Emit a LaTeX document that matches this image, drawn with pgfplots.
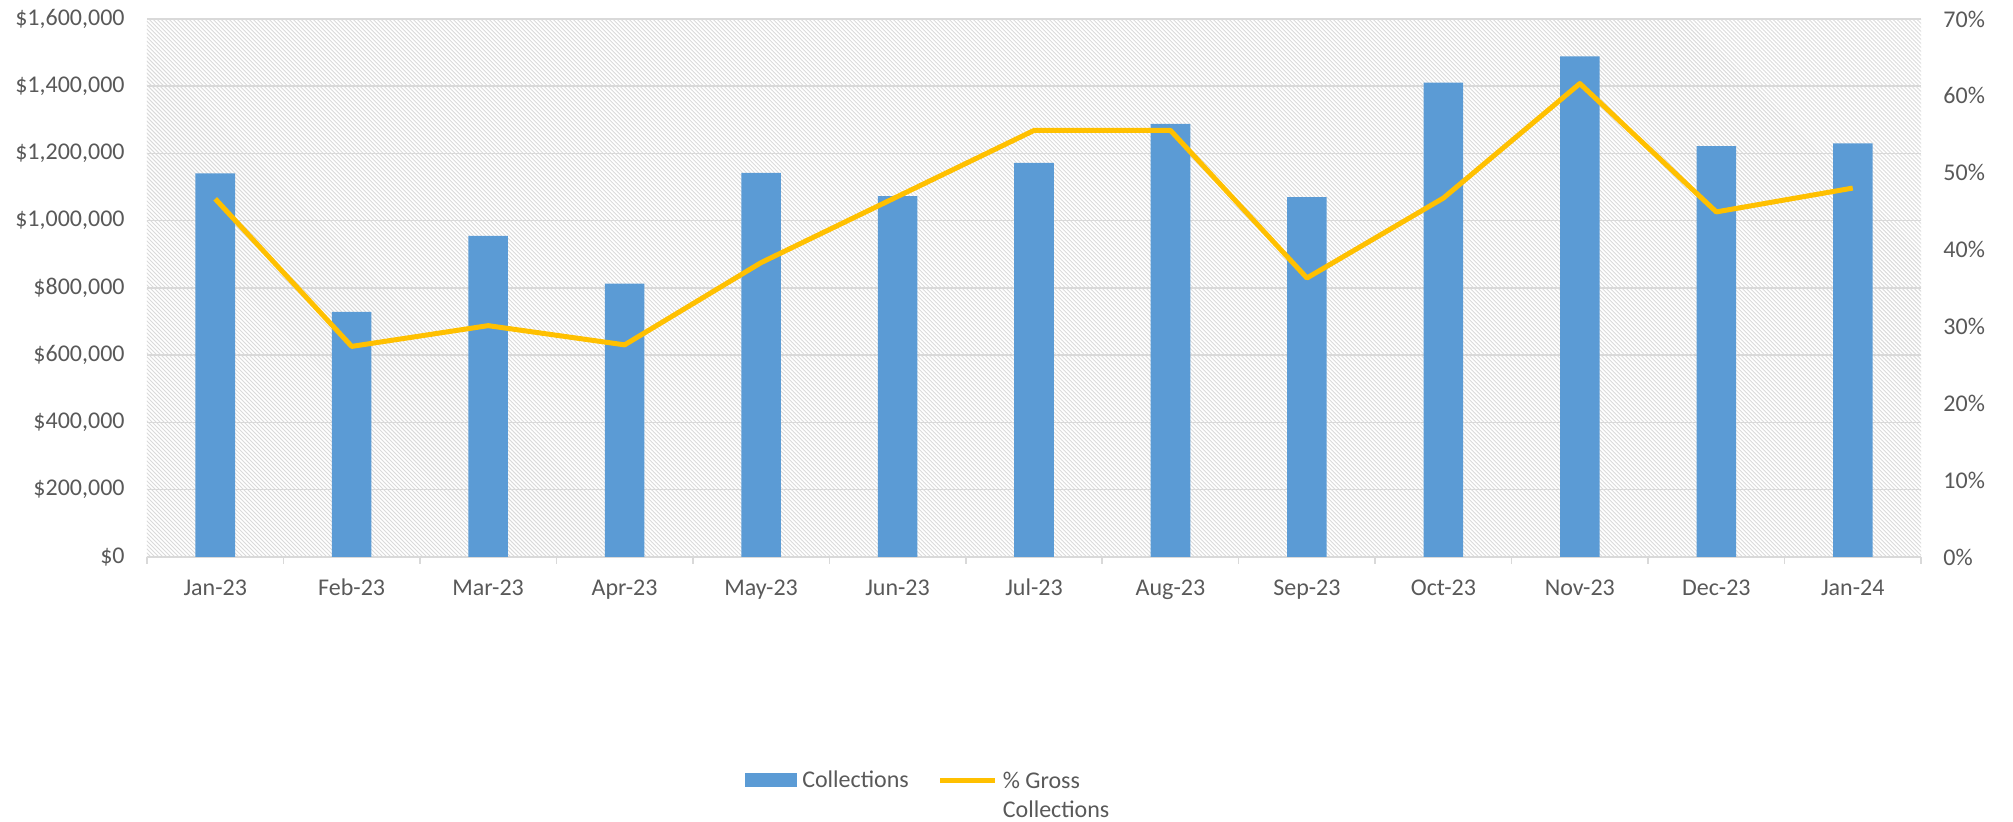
\documentclass[border=0pt]{standalone}
\usepackage{fontspec}
\setmainfont{Carlito}
\usepackage{pgfplots}
\pgfplotsset{compat=1.18}
\usetikzlibrary{patterns.meta}
\definecolor{barblue}{HTML}{5B9BD5}
\definecolor{lineyellow}{HTML}{FFC000}
\definecolor{gridgray}{HTML}{D9D9D9}
\definecolor{txtgray}{HTML}{595959}
\definecolor{hatch}{HTML}{DADADA}
\begin{document}
\begin{tikzpicture}
\pgfplotsset{
  /pgf/number format/assume math mode=true,
  common/.style={
    scale only axis, width=887pt, height=269pt,
    xmin=-0.5, xmax=12.5,
    tick label style={font=\fontsize{12}{14.4}\selectfont, text=txtgray, inner sep=0pt},
    major tick length=0pt,
  },
}
\begin{axis}[common, name=ax,
  ymin=0, ymax=1600000,
  axis background/.style={pattern={Lines[angle=-45,distance=1.414pt,line width=0.45pt]}, pattern color=hatch},
  axis x line*=bottom, axis y line*=left,
  x axis line style={gridgray, line width=0.75pt, -},
  y axis line style={draw=none},
  xtick={0,...,12},
  xticklabels={Jan-23,Feb-23,Mar-23,Apr-23,May-23,Jun-23,Jul-23,Aug-23,Sep-23,Oct-23,Nov-23,Dec-23,Jan-24},
  x tick label style={text height=9pt, text depth=2.5pt},
  minor xtick={-0.5,0.5,...,12.5},
  minor tick length=3.5pt, tick align=outside,
  minor x tick style={gridgray, line width=0.75pt},
  xticklabel shift=10.2pt,
  ytick={0,200000,...,1600000},
  scaled y ticks=false,
  yticklabel={\$\pgfmathprintnumber[fixed,precision=0,1000 sep={,}]{\tick}},
  yticklabel shift=11pt,
  ymajorgrids, grid style={gridgray, line width=0.75pt},
  ybar, bar width=0.29,
  legend style={at={(axis description cs:0.337,-0.393)}, anchor=north west, draw=none, fill=none, inner sep=0pt,
    font=\fontsize{12}{14.4}\selectfont, text=txtgray, legend columns=2,
    nodes={inner xsep=2.5pt, inner ysep=0pt},
    /tikz/every even column/.append style={column sep=12pt}},
  legend cell align=left,
]
\addplot[fill=barblue, draw=none,
  legend image code/.code={\fill[barblue] (0pt,-3.5pt) rectangle (26pt,3.5pt);}]
  coordinates {(0,1141000) (1,729000) (2,955000) (3,813000) (4,1142000) (5,1073000) (6,1172000) (7,1288000) (8,1070000) (9,1411000) (10,1489000) (11,1222000) (12,1230000)};
\addlegendentry{Collections}
\addlegendimage{legend image code/.code={\draw[lineyellow, line width=2.5pt] (0pt,0pt) -- (27.5pt,0pt);}}
\addlegendentry{\begin{tabular}[t]{@{}l@{}}\% Gross\\Collections\end{tabular}}
\end{axis}
\begin{axis}[common,
  ymin=0, ymax=70,
  axis x line=none, axis y line*=right,
  y axis line style={draw=none},
  xtick=\empty,
  ytick={0,10,...,70},
  yticklabel={\pgfmathprintnumber{\tick}\%},
  yticklabel shift=11pt,
]
\addplot[lineyellow, line width=2.5pt, line join=round]
  coordinates {(0,46.6) (1,27.4) (2,30.1) (3,27.6) (4,38.3) (5,46.9) (6,55.5) (7,55.5) (8,36.3) (9,46.7) (10,61.6) (11,44.9) (12,48.0)};
\end{axis}
\pgfresetboundingbox
\path[use as bounding box] ([xshift=-73.5pt,yshift=-132.5pt]ax.south west) rectangle ([xshift=46pt,yshift=9.5pt]ax.north east);
\end{tikzpicture}
\end{document}
